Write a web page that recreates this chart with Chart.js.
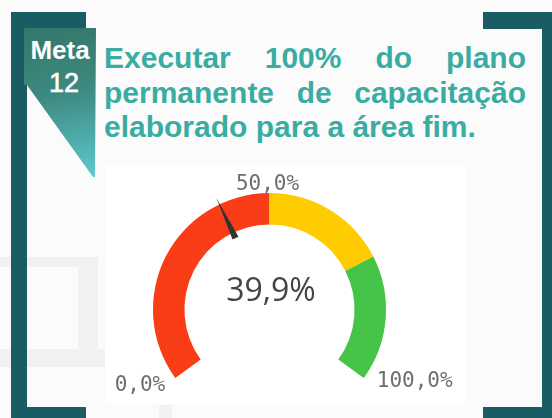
<!DOCTYPE html>
<html><head><meta charset="utf-8">
<script src="https://cdn.jsdelivr.net/npm/chart.js@4/dist/chart.umd.min.js"></script>
<style>
html,body{margin:0;padding:0;}
body{width:552px;height:418px;position:relative;overflow:hidden;background:#fbfbfb;font-family:"Liberation Sans",Arial,sans-serif;}
.abs{position:absolute;}
.ghost{position:absolute;background:#f1f1f1;}
.frame{position:absolute;background:#1b5b63;}
#badge{position:absolute;left:24px;top:28px;width:72px;height:149px;
  background:linear-gradient(170deg,#33776b 0%,#3d8a80 45%,#5fc8d0 100%);
  clip-path:polygon(0 0,72px 0,71px 149px,69px 149px,3px 57px,0 57px);}
.badgeTxt{position:absolute;color:#fff;text-align:center;white-space:nowrap;line-height:1;}
.tl{position:absolute;left:104px;width:422px;font-weight:bold;font-size:30px;color:#3aaca2;white-space:nowrap;line-height:34.5px;}
.just{text-align:justify;text-align-last:justify;white-space:normal;}
#c{position:absolute;left:0;top:0;}
</style></head>
<body>
<div class="ghost" style="left:0;top:257px;width:98px;height:10px"></div>
<div class="ghost" style="left:78px;top:257px;width:20px;height:100px"></div>
<div class="ghost" style="left:0;top:349px;width:105px;height:18px"></div>
<div class="ghost" style="left:159px;top:405px;width:13px;height:13px"></div>
<div class="abs" style="left:105px;top:165px;width:361px;height:239px;background:#fff"></div>

<div class="frame" style="left:11px;top:12px;width:75px;height:17px"></div>
<div class="frame" style="left:11px;top:12px;width:16px;height:406px"></div>
<div class="frame" style="left:11px;top:407px;width:75px;height:11px"></div>
<div class="frame" style="left:483px;top:12px;width:69px;height:17px"></div>
<div class="frame" style="left:542px;top:12px;width:10px;height:406px"></div>
<div class="frame" style="left:483px;top:407px;width:69px;height:11px"></div>

<div id="badge"></div>
<div class="badgeTxt" style="left:20px;width:80px;top:37px;font-weight:bold;font-size:26px;">Meta</div>
<div class="badgeTxt" style="left:24px;width:80px;top:70px;font-size:27px;-webkit-text-stroke:0.6px #fff;">12</div>

<div class="tl just" style="top:41px;">Executar 100% do plano</div>
<div class="tl just" style="top:75.5px;">permanente de capacitação</div>
<div class="tl" style="top:110px;">elaborado para a área fim.</div>

<canvas id="c" width="552" height="418"></canvas>
<script>
// ---- data ----
const bandNames = ['Abaixo', 'Intermediário', 'Meta'];
const bandValues = [50, 25, 25];
const bandColors = ['#f93e17', '#ffcc02', '#45c447'];
const gaugeMin = 0;
const gaugeMax = 100;
const gaugeValue = 39.9;
const tickValues = [0, 50, 100];
const tickLabels = ['0,0%', '50,0%', '100,0%'];
const centerLabel = '39,9%';

const gaugePlugin = {
  id: 'gaugeDecor',
  afterDatasetsDraw(chart) {
    const meta = chart.getDatasetMeta(0);
    const first = meta.data[0];
    const last = meta.data[meta.data.length - 1];
    const cx = first.x, cy = first.y;
    const R = first.outerRadius, r = first.innerRadius;
    const a0 = first.startAngle, a1 = last.endAngle;
    const ang = v => a0 + (v - gaugeMin) / (gaugeMax - gaugeMin) * (a1 - a0);
    const ctx = chart.ctx;
    ctx.save();
    // needle
    const a = ang(gaugeValue);
    const ux = Math.cos(a), uy = Math.sin(a);
    const px = -uy, py = ux;
    const rTip = R + 7, rBase = r - 6, hw = 3.3;
    ctx.beginPath();
    ctx.moveTo(cx + ux * rTip, cy + uy * rTip);
    ctx.lineTo(cx + ux * rBase + px * hw, cy + uy * rBase + py * hw);
    ctx.lineTo(cx + ux * rBase - px * hw, cy + uy * rBase - py * hw);
    ctx.closePath();
    ctx.fillStyle = '#333333';
    ctx.fill();
    // tick labels
    ctx.font = '21px "DejaVu Sans Mono", monospace';
    ctx.fillStyle = '#6e6e6e';
    ctx.textBaseline = 'alphabetic';
    tickValues.forEach((v, i) => {
      const t = ang(v);
      const x = cx + Math.cos(t) * R, y = cy + Math.sin(t) * R;
      const c = Math.cos(t);
      if (c < -0.3) { ctx.textAlign = 'right'; ctx.fillText(tickLabels[i], x - 10, y + 13); }
      else if (c > 0.3) { ctx.textAlign = 'left'; ctx.fillText(tickLabels[i], x + 13, y + 9); }
      else { ctx.textAlign = 'center'; ctx.fillText(tickLabels[i], x - 2, y - 3); }
    });
    // center value
    ctx.font = '32px "Open Sans", sans-serif';
    ctx.fillStyle = '#444444';
    ctx.textAlign = 'center';
    ctx.fillText(centerLabel, cx + 1.5, cy - 8.5);
    ctx.restore();
  }
};

new Chart(document.getElementById('c'), {
  type: 'doughnut',
  data: {
    labels: bandNames,
    datasets: [{
      data: bandValues,
      backgroundColor: bandColors,
      borderWidth: 0,
      hoverOffset: 0,
      offset: 0
    }]
  },
  options: {
    responsive: false,
    animation: false,
    rotation: -126,
    circumference: 252,
    cutout: '73%',
    layout: { padding: { left: 153, right: 166, top: 193, bottom: 40 } },
    plugins: { legend: { display: false }, tooltip: { enabled: false }, title: { display: false } },
    events: []
  },
  plugins: [gaugePlugin]
});
</script>
</body></html>
